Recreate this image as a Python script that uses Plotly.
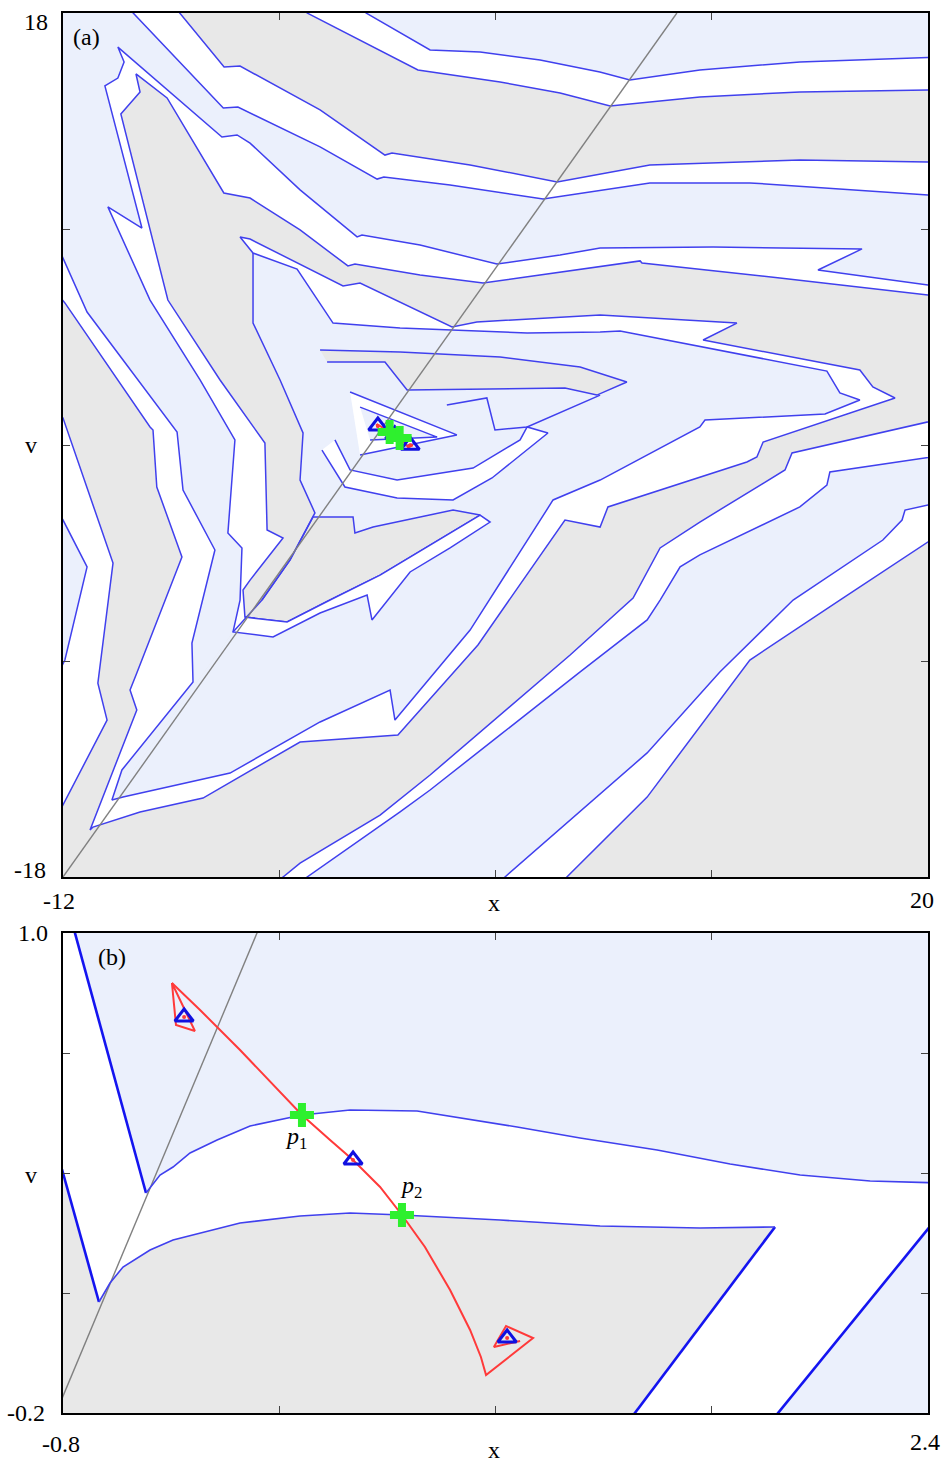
import plotly.graph_objects as go

W, H = 947, 1464
LB = "#ebf0fc"   # light blue basin
GR = "#e8e8e8"   # grey basin
BL = "#4040ee"   # boundary blue
BLT = "#1414f0"  # thick boundary blue
RED = "#ff3a3a"
GRN = "#2ef02e"

# ---------------- shared invariant points ----------------
tri_x = [-0.352, 0.273, 0.843]
tri_v = [0.790, 0.4325, -0.0125]
fix_x = [0.084, 0.454]
fix_v = [0.545, 0.295]

red_loop1_x = [-0.397, -0.382, -0.312, -0.397]
red_loop1_v = [0.875, 0.770, 0.755, 0.875]
red_x = [-0.397, -0.293, -0.145, -0.034, 0.084, 0.188, 0.273, 0.373, 0.454, 0.539, 0.632, 0.706, 0.746, 0.765, 0.939, 0.839, 0.794, 0.891]
red_v = [0.875, 0.8075, 0.7075, 0.6275, 0.545, 0.4825, 0.4325, 0.365, 0.295, 0.215, 0.1075, 0.0075, -0.060, -0.105, -0.0125, 0.0175, -0.035, -0.020]

# ---------------- panel (a) boundaries (x, v) ----------------
diag_a_x = [-12.0, 10.71]
diag_a_v = [-18.0, 18.0]

L1_x = [-1.2, -0.79, 1.58, 3.43, 5.65, 7.86, 8.97, 11.56, 15.26, 20.0, 20.6]
L1_v = [18.83, 18.0, 16.46, 16.375, 16.04, 15.54, 15.21, 15.625, 15.96, 16.17, 16.17]
L2_x = [-3.42, -2.97, 1.13, 4.17, 6.39, 8.24, 11.56, 15.26, 20.0, 20.6]
L2_v = [18.83, 18.0, 15.625, 15.125, 14.67, 14.125, 14.5, 14.71, 14.79, 14.79]
L3_x = [-8.12, -7.68, -6.04, -5.45, -2.49, -0.09, 0.17, 3.06, 6.28, 9.71, 15.26, 20.0, 20.6]
L3_v = [18.6, 18.0, 15.75, 15.79, 13.96, 12.08, 12.17, 11.67, 10.96, 11.67, 11.875, 11.79, 11.79]
L4_x = [-9.86, -9.41, -6.07, -5.53, -2.49, -0.38, -0.13, 2.32, 5.76, 9.71, 13.41, 20.0, 20.6]
L4_v = [18.54, 18.0, 14.04, 14.08, 12.42, 11.08, 11.17, 10.83, 10.25, 10.92, 10.92, 10.42, 10.42]

W3o_x = [20.63, 20.0, 15.93, 17.56, 12.05, 7.87, 6.39, 4.05, 1.21, -0.94, -1.12, -3.23, -5.08, -5.56, -6.12, -9.97, -9.74, -9.97, -10.45, -9.08, -10.34, -8.78, -6.93, -5.64, -5.90, -5.38, -5.45, -5.71,
         -4.23, -2.49, -0.75, -0.57, 0.84, 2.32, 3.80]
W3o_v = [6.67, 6.67, 7.29, 8.17, 8.25, 8.21, 7.92, 7.54, 8.33, 8.75, 8.67, 10.63, 12.58, 12.92, 12.83, 16.58, 15.96, 15.29, 14.96, 9.04, 9.92, 6.04, 2.71, 0.21, -3.67, -4.29, -6.46, -7.79,
         -8.0, -7.0, -6.25, -7.29, -5.29, -4.29, -3.21]
W3i_x = [20.63, 20.0, 14.52, 9.42, 9.35, 6.39, 3.54, 1.21, -1.20, -1.46, -3.23, -5.08, -6.05, -8.15, -9.30, -9.15, -9.86, -8.12, -6.19, -4.53, -4.45, -3.86, -5.08, -5.34, -5.27,
         -3.71, -2.12, -0.27, 1.58, 3.43]
W3i_v = [6.25, 6.25, 6.96, 7.58, 7.67, 7.21, 6.75, 7.08, 7.54, 7.46, 8.96, 10.29, 10.5, 14.46, 15.46, 14.71, 13.79, 6.04, 2.71, 0.08, -3.54, -3.875, -5.63, -6.04, -7.17,
         -7.375, -6.46, -5.42, -4.17, -2.92]

S_x = [-12.48, -12.0, -11.11, -7.78, -7.56, -6.38, -7.23, -7.19, -9.82, -10.19, -9.78, -5.82, -2.49, 0.10, 0.28, 3.06, 6.13, 7.87,
       11.56, 11.75, 16.19, 17.48, 16.74, 16.26, 8.61, 7.87, 5.17, 2.39, 0.47, -2.01, -3.34, -4.97, -5.45, -5.08, -1.64, -1.01, 2.39,
       3.31, 7.87, 12.93, 11.68, 17.48, 17.96, 18.78, 13.90, 13.67, 13.30, 8.16, 7.87, 6.57, 3.35, 0.39, -3.23, -6.82, -9.15,
       -10.89, -11.0, -9.27, -9.52, -9.27, -7.60, -8.53, -8.67, -8.78, -11.93, -12.48]
S_v = [8.96, 7.79, 5.54, 0.54, -1.875, -4.375, -8.25, -9.875, -13.54, -14.79, -14.67, -13.67, -11.54, -10.21, -11.46, -7.71, -2.29, -1.46,
       0.75, 1.04, 1.29, 1.875, 2.17, 3.08, 4.75, 4.71, 4.67, 4.79, 4.875, 5.08, 7.33, 8.0, 8.67, 8.58, 6.625, 6.75, 4.92,
       5.125, 5.42, 5.08, 4.375, 3.125, 2.42, 1.96, 0.125, -0.5, -0.71, -2.58, -3.42, -3.125, -8.33, -12.08, -12.375, -14.71, -15.29,
       -15.92, -16.04, -11.04, -10.21, -9.5, -4.67, -1.75, 0.625, 0.75, 5.92, 6.67]

LBE_x = [-10.19, -9.78, -5.82, -2.49, 0.10, 0.28, 3.06, 6.13, 7.87, 11.56, 11.75, 16.19, 17.48, 16.74, 16.26, 8.61, 7.87, 5.17, 2.39, 0.47,
         -2.01, -3.34, -4.97, -4.97, -3.97, -3.12, -3.23, -2.68, -3.60, -4.64, -5.71]
LBE_v = [-14.79, -14.67, -13.67, -11.54, -10.21, -11.46, -7.71, -2.29, -1.46, 0.75, 1.04, 1.29, 1.875, 2.17, 3.08, 4.75, 4.71, 4.67, 4.79, 4.875,
         5.08, 7.33, 8.0, 5.08, 2.71, 0.5, -1.46, -2.83, -4.79, -6.46, -7.79]
L9_x = [-4.97, -4.97, -3.97, -3.12, -3.23, -2.68, -3.60, -4.64, -5.71]
L9_v = [8.0, 5.08, 2.71, 0.5, -1.46, -2.83, -4.79, -6.46, -7.79]

wedge_x = [-5.27, -3.71, -2.12, -0.27, 1.58, 3.43, 2.43, -0.53, -1.20, -1.27, -2.75, -3.60, -4.64]
wedge_v = [-7.17, -7.375, -6.46, -5.42, -4.17, -2.92, -2.71, -3.42, -3.67, -3.0, -3.0, -4.79, -6.46]

# centre: grey tongue, nested triangles, lower crescent
tongue_x = [-2.49, 0.47, 4.17, 7.13, 8.86, 7.75, 6.57, 0.73, -0.09, -2.23]
tongue_v = [3.96, 3.875, 3.67, 3.25, 2.625, 2.08, 2.375, 2.29, 3.46, 3.46]
cusp_x = [2.20, 3.68, 3.98, 5.17, 7.87]
cusp_v = [1.67, 1.96, 0.625, 0.75, 2.08]
triO_x = [-1.38, 2.57, -1.01]
triO_v = [2.21, 0.42, -0.42]
triI_x = [-1.01, 1.84, -0.64]
triI_v = [1.58, 0.33, 0.21]
Uup_x = [-1.94, -1.38, 0.36, 3.17, 4.91, 5.17]
Uup_v = [0.21, -1.04, -1.46, -0.96, 0.21, 0.75]
Ulo_x = [5.94, 3.87, 2.43, 0.36, -1.57, -2.42]
Ulo_v = [0.5, -1.375, -2.29, -2.21, -1.75, -0.21]

Wb_x = [20.63, 20.0, 14.97, 14.71, 11.56, 10.09, 9.09, 6.76, 4.17, 1.58, -0.27, -3.23, -3.86, -4.34]
Wb_v = [1.125, 0.96, -0.33, -1.04, -3.21, -4.29, -6.375, -8.75, -11.25, -13.75, -15.42, -17.42, -18.0, -18.46]
Wc_x = [20.63, 20.0, 16.37, 16.26, 15.26, 11.56, 10.83, 10.09, 9.61, 7.12, 4.17, 1.58, 0.47, -2.97, -3.42]
Wc_v = [-0.42, -0.54, -1.125, -1.67, -2.58, -4.58, -5.08, -6.46, -7.29, -9.46, -12.08, -14.375, -15.29, -18.0, -18.46]
Wd_x = [20.63, 20.0, 19.15, 19.04, 18.33, 15.01, 12.30, 9.61, 4.35, 3.80]
Wd_v = [-2.46, -2.5, -2.71, -3.125, -3.96, -6.46, -9.46, -12.83, -18.0, -18.54]
We_x = [20.63, 20.0, 16.74, 13.41, 9.61, 6.64, 6.20]
We_v = [-4.0, -4.04, -6.46, -8.96, -14.67, -18.0, -18.54]

P3_x = [-12.48, -12.0, -10.15, -10.71, -10.37, -11.93, -12.48]
P3_v = [1.875, 1.125, -4.92, -9.92, -11.46, -14.79, -16.04]
P4_x = [-12.48, -12.0, -11.11, -11.93, -12.48]
P4_v = [-2.29, -3.125, -5.08, -8.96, -10.21]

# ---------------- panel (b) boundaries ----------------
diag_b_x = [-0.82, -0.070]
diag_b_v = [-0.190, 1.02]
B1_x = [-0.776, -0.7556, -0.4929]
B1_v = [1.05, 1.0, 0.35]
B2_x = [-0.493, -0.441, -0.393, -0.330, -0.230, -0.108, 0.084, 0.262, 0.510, 0.880, 1.113, 1.398, 1.668, 1.927, 2.186, 2.4, 2.45]
B2_v = [0.350, 0.395, 0.415, 0.450, 0.4825, 0.5175, 0.545, 0.5575, 0.555, 0.515, 0.4875, 0.4575, 0.4225, 0.395, 0.380, 0.375, 0.375]
B3_x = [-0.82, -0.8, -0.667]
B3_v = [0.4485, 0.40, 0.0775]
B4_x = [-0.667, -0.626, -0.578, -0.478, -0.393, -0.145, 0.077, 0.262, 0.454, 0.817, 1.187, 1.557, 1.834]
B4_v = [0.0775, 0.125, 0.165, 0.2075, 0.2325, 0.275, 0.2925, 0.300, 0.295, 0.2825, 0.2675, 0.2625, 0.265]
B5_x = [1.834, 1.316, 1.260]
B5_v = [0.265, -0.2, -0.25]
B6_x = [2.46, 2.4, 1.845, 1.785]
B6_v = [0.31, 0.26, -0.2, -0.25]

fig = go.Figure()
A = ("x", "y")
B = ("x2", "y2")


def poly(xs, vs, color, ax, line=False, lw=1.5, lc=BL):
    fig.add_trace(go.Scatter(x=xs, y=vs, mode="lines", fill="toself", fillcolor=color,
                             line=dict(width=lw if line else 0, color=lc),
                             xaxis=ax[0], yaxis=ax[1], hoverinfo="skip", showlegend=False))


def curve(xs, vs, ax, color=BL, lw=1.5):
    fig.add_trace(go.Scatter(x=xs, y=vs, mode="lines", line=dict(width=lw, color=color),
                             xaxis=ax[0], yaxis=ax[1], hoverinfo="skip", showlegend=False))


def strip(ex, ev, ix, iv, ax):
    poly(ex + ix[::-1], ev + iv[::-1], "white", ax, line=True)


# ---- panel (a)
poly([-13, 21, 21, -13], [-19, -19, 19, 19], GR, A)
poly(L1_x + [20.6, -1.2], L1_v + [19.5, 19.5], LB, A)
lb3_x = [-12.48] + L4_x + W3o_x[:28] + [-10.19, -9.82, -7.19, -7.23, -6.38, -7.56, -7.78, -11.11, -12.0, -12.48]
lb3_v = [19.5] + L4_v + W3o_v[:28] + [-14.79, -13.54, -9.875, -8.25, -4.375, -1.875, 0.54, 5.54, 7.79, 8.96]
poly(lb3_x, lb3_v, LB, A)
poly(LBE_x, LBE_v, LB, A)
poly(wedge_x, wedge_v, GR, A, line=True)
poly(Uup_x + Ulo_x, Uup_v + Ulo_v, "white", A, line=True)
poly(tongue_x, tongue_v, GR, A, line=True)
curve(cusp_x, cusp_v, A)
poly(triO_x, triO_v, "white", A, line=True)
poly(triI_x, triI_v, LB, A, line=True)
poly(Wc_x + We_x[::-1], Wc_v + We_v[::-1], LB, A)
strip(L1_x, L1_v, L2_x, L2_v, A)
strip(L3_x, L3_v, L4_x, L4_v, A)
strip(W3o_x, W3o_v, W3i_x, W3i_v, A)
poly(S_x, S_v, "white", A, line=True)
strip(Wb_x, Wb_v, Wc_x, Wc_v, A)
strip(Wd_x, Wd_v, We_x, We_v, A)
poly(P3_x, P3_v, "white", A, line=True)
poly(P4_x, P4_v, LB, A, line=True)
curve(L9_x, L9_v, A)
curve(diag_a_x, diag_a_v, A, color="#808080", lw=1.4)

# ---- panel (b)
poly(B1_x + B2_x[1:] + [2.45, -0.78], B1_v + B2_v[1:] + [1.05, 1.05], LB, B)
poly(B3_x + B4_x[1:] + B5_x[1:] + [-0.85, -0.85], B3_v + B4_v[1:] + B5_v[1:] + [-0.25, 0.4485], GR, B)
poly(B6_x + [2.45, 2.45], B6_v + [-0.25, 0.31], LB, B)
curve(diag_b_x, diag_b_v, B, color="#808080", lw=1.4)
curve(B1_x, B1_v, B, color=BLT, lw=2.6)
curve(B3_x, B3_v, B, color=BLT, lw=2.6)
curve(B5_x, B5_v, B, color=BLT, lw=2.6)
curve(B6_x, B6_v, B, color=BLT, lw=2.6)
curve(B2_x, B2_v, B, color=BL, lw=1.6)
curve(B4_x, B4_v, B, color=BL, lw=1.6)

for ax in (A, B):
    curve(red_loop1_x, red_loop1_v, ax, color=RED, lw=2)
    curve(red_x, red_v, ax, color=RED, lw=2)
    fig.add_trace(go.Scatter(x=tri_x, y=tri_v, mode="markers",
                             marker=dict(symbol="triangle-up-open", size=16, color="#1010e0", line=dict(width=3)),
                             xaxis=ax[0], yaxis=ax[1], hoverinfo="skip", showlegend=False))
    fig.add_trace(go.Scatter(x=tri_x, y=tri_v, mode="markers",
                             marker=dict(symbol="circle", size=4, color=RED),
                             xaxis=ax[0], yaxis=ax[1], hoverinfo="skip", showlegend=False))
    fig.add_trace(go.Scatter(x=fix_x, y=fix_v, mode="markers",
                             marker=dict(symbol="cross", size=20, color=GRN, line=dict(width=0)),
                             xaxis=ax[0], yaxis=ax[1], hoverinfo="skip", showlegend=False))

axis_common = dict(showgrid=False, zeroline=False, showline=True, linecolor="black", linewidth=1.6,
                   mirror="ticks", ticks="inside", ticklen=7, tickcolor="#444", tickwidth=1,
                   showticklabels=False)

fig.update_layout(
    width=W, height=H, margin=dict(l=0, r=0, t=0, b=0),
    paper_bgcolor="white", plot_bgcolor="white",
    xaxis=dict(domain=[63 / W, 928 / W], range=[-12, 20], tickvals=[-4, 4, 12], anchor="y", **axis_common),
    yaxis=dict(domain=[1 - 877 / H, 1 - 13 / H], range=[-18, 18], tickvals=[-9, 0, 9], anchor="x", **axis_common),
    xaxis2=dict(domain=[63 / W, 928 / W], range=[-0.8, 2.4], tickvals=[0.0, 0.8, 1.6], anchor="y2", **axis_common),
    yaxis2=dict(domain=[1 - 1413 / H, 1 - 933 / H], range=[-0.2, 1.0], tickvals=[0.1, 0.4, 0.7], anchor="x2", **axis_common),
    font=dict(family="Liberation Serif", size=24, color="black"),
)

labels = [
    ("18", 36, 22), ("v", 31, 445), ("-18", 30, 870),
    ("-12", 59, 901), ("x", 494, 903), ("20", 922, 900),
    ("1.0", 33, 933), ("v", 31, 1175), ("-0.2", 26, 1413),
    ("-0.8", 61, 1444), ("x", 494, 1450), ("2.4", 925, 1442),
    ("(a)", 86, 37), ("(b)", 112, 957),
    ("<i>p</i><sub>1</sub>", 296, 1138), ("<i>p</i><sub>2</sub>", 411, 1187),
]
for t, px, py in labels:
    fig.add_annotation(text=t, x=px / W, y=1 - py / H, xref="paper", yref="paper", showarrow=False,
                       xanchor="center", yanchor="middle", font=dict(size=24))

fig.write_html("out.html")
